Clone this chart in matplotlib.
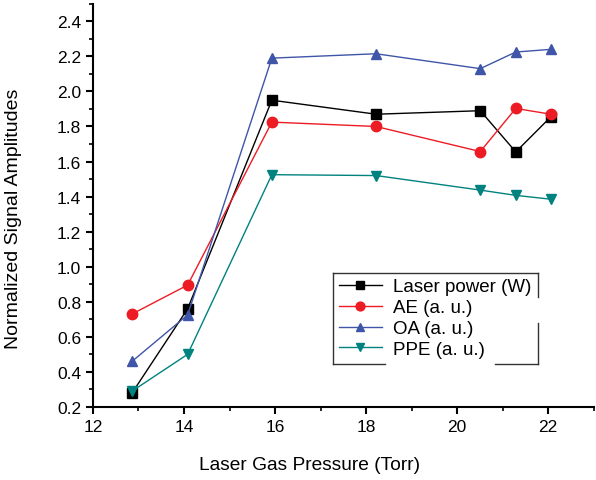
import matplotlib
matplotlib.use("Agg")
import matplotlib.pyplot as plt
from matplotlib.ticker import MultipleLocator
from matplotlib.lines import Line2D

plt.rcParams['font.family'] = ['Liberation Sans', 'DejaVu Sans']

# data
pressure = [12.86, 14.08, 15.93, 18.22, 20.51, 21.29, 22.06]
laser_power = [0.28, 0.76, 1.95, 1.87, 1.89, 1.655, 1.855]
ae = [0.73, 0.895, 1.825, 1.80, 1.657, 1.903, 1.87]
oa = [0.46, 0.725, 2.19, 2.215, 2.13, 2.225, 2.24]
ppe = [0.29, 0.50, 1.525, 1.52, 1.437, 1.407, 1.385]

series_names = ["Laser power (W)", "AE (a. u.)", "OA (a. u.)", "PPE (a. u.)"]
series_values = [laser_power, ae, oa, ppe]
colors = ["#000000", "#ED1C24", "#3F55A8", "#00827F"]
markers = ["s", "o", "^", "v"]
msizes = [6.5, 7.5, 7.5, 7.5]

fig = plt.figure(figsize=(5.96, 4.81), dpi=100)
ax = fig.add_axes([0.156, 0.152, 0.84, 0.838])

for name, vals, c, m, ms in zip(series_names, series_values, colors, markers, msizes):
    ax.plot(pressure, vals, color=c, marker=m, markersize=ms, linewidth=1.0, label=name)

ax.set_xlim(12, 23)
ax.set_ylim(0.2, 2.5)
ax.xaxis.set_major_locator(MultipleLocator(2))
ax.xaxis.set_minor_locator(MultipleLocator(1))
ax.yaxis.set_minor_locator(MultipleLocator(0.1))
yticks = [0.2, 0.4, 0.6, 0.8, 1.0, 1.2, 1.4, 1.6, 1.8, 2.0, 2.2, 2.4]
ax.set_yticks(yticks)
ax.set_yticklabels([f"{t:.1f}" for t in yticks])

for s in ["top", "right"]:
    ax.spines[s].set_visible(False)
ax.spines["left"].set_linewidth(1.5)
ax.spines["bottom"].set_linewidth(1.5)
ax.tick_params(which="major", direction="out", length=5, width=1.5, labelsize=12.5)
ax.tick_params(which="minor", direction="out", length=3, width=1.2)

ax.set_xlabel("Laser Gas Pressure (Torr)", fontsize=13.8)
ax.xaxis.set_label_coords(0.432, -0.122)
ax.set_ylabel("Normalized Signal Amplitudes", fontsize=14)
ax.yaxis.set_label_coords(-0.142, 0.469)

leg = ax.legend(loc="upper left", bbox_to_anchor=(0.48, 0.333), fontsize=13.5,
                frameon=False, handlelength=2.3, markerscale=0.85,
                borderpad=0.3, labelspacing=0.2, handletextpad=0.6, borderaxespad=0)

# legend border drawn by hand, with the broken segments of the original
fig.canvas.draw()
bb = leg.get_window_extent().transformed(fig.transFigure.inverted())
x0, y0, x1, y1 = bb.x0, bb.y0, bb.x1 + 0.002, bb.y1
w, h = x1 - x0, y1 - y0
segs = [
    ([x0, x1], [y1, y1]),
    ([x0, x0], [y0, y1]),
    ([x1, x1], [y1, y1 - 0.27 * h]),
    ([x1, x1], [y1 - 0.55 * h, y0]),
    ([x0, x0 + 0.25 * w], [y0, y0]),
    ([x0 + 0.79 * w, x1], [y0, y0]),
]
for xs, ys in segs:
    fig.add_artist(Line2D(xs, ys, color="#333333", linewidth=1.0, transform=fig.transFigure))

fig.savefig("out.png", dpi=100)
